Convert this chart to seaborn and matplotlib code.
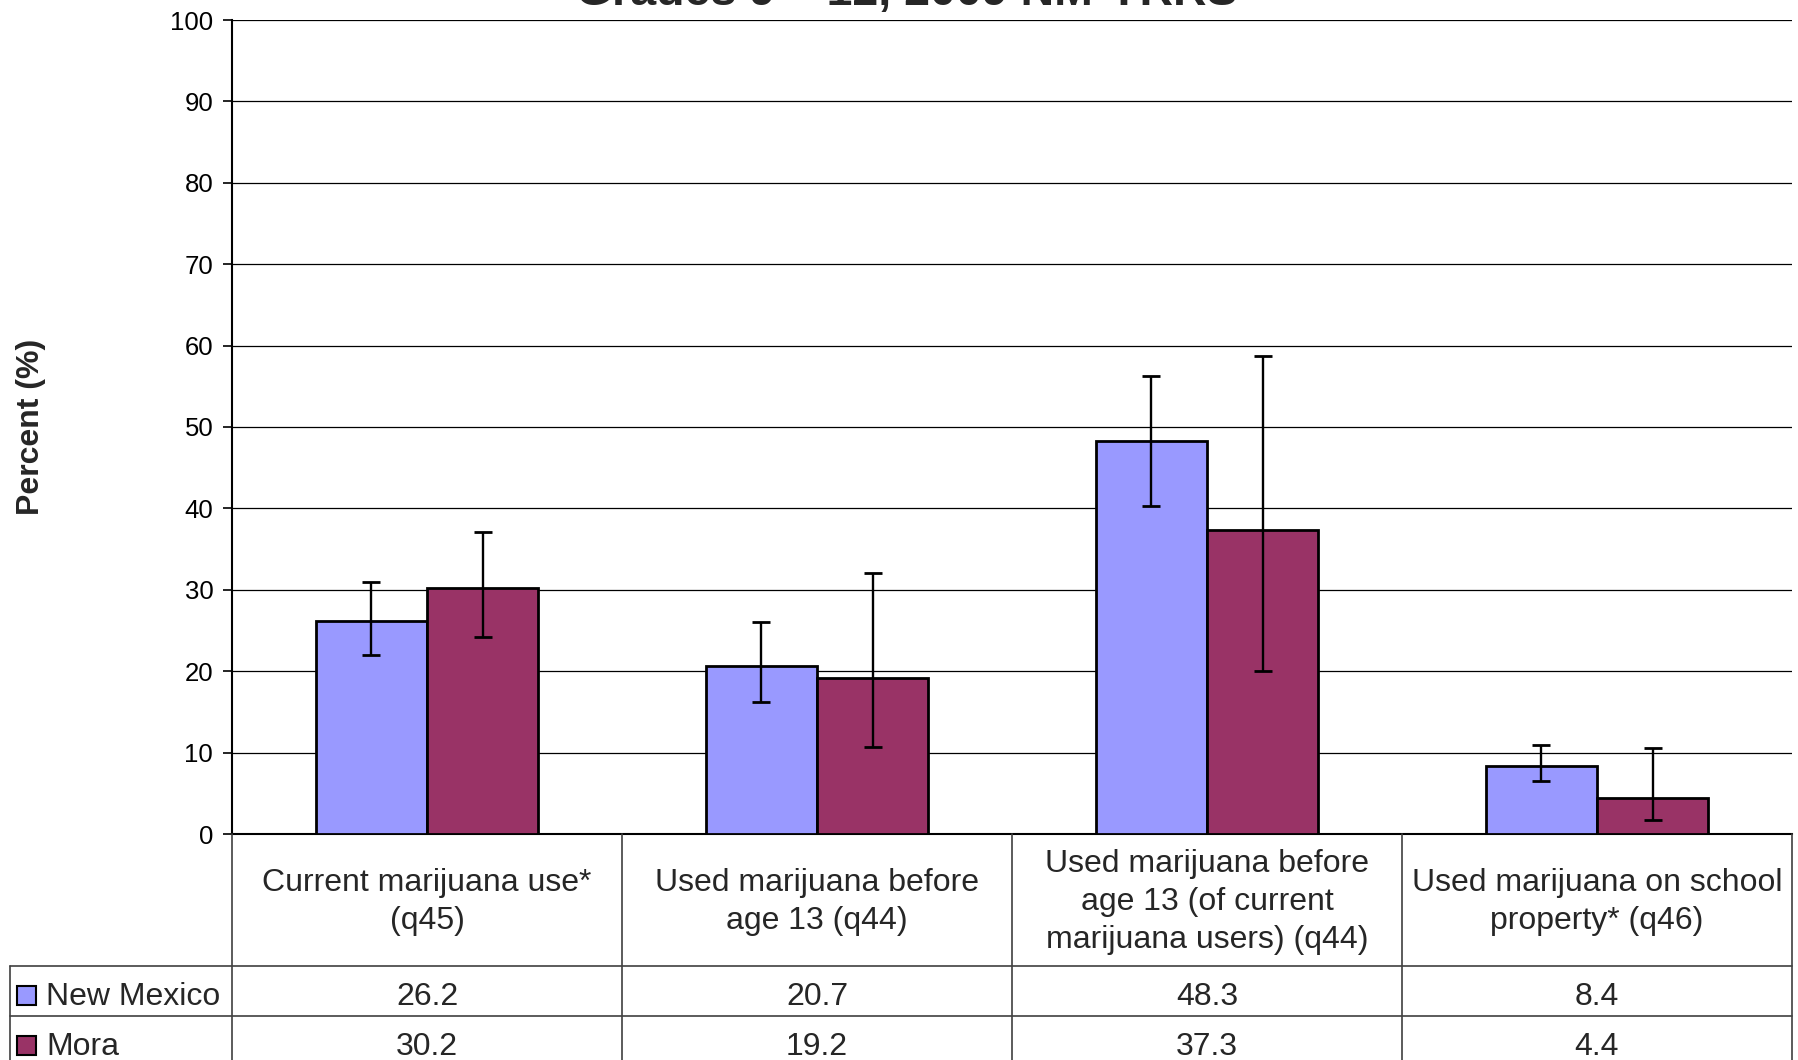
import pandas as pd
import matplotlib
matplotlib.use("Agg")
import matplotlib.pyplot as plt
import matplotlib.transforms as mtransforms
from matplotlib.lines import Line2D
from matplotlib.patches import Rectangle
import seaborn as sns


# ============================
# Data
# ============================

categories = [
    "Current marijuana use*\n(q45)",
    "Used marijuana before\nage 13 (q44)",
    "Used marijuana before\nage 13 (of current\nmarijuana users) (q44)",
    "Used marijuana on school\nproperty* (q46)",
]
groups = ["New Mexico", "Mora"]

nm_values = [26.2, 20.7, 48.3, 8.4]
nm_low = [22.0, 16.2, 40.3, 6.5]
nm_high = [30.9, 26.0, 56.3, 10.9]

mora_values = [30.2, 19.2, 37.3, 4.4]
mora_low = [24.2, 10.7, 20.0, 1.7]
mora_high = [37.1, 32.1, 58.7, 10.6]

title_text = "Grades 9 \u2013 12, 2009 NM-YRRS"
colors = ["#9999FF", "#993366"]


# ============================
# Helper Functions
# ============================

W, H = 1799, 1060


def fx(px):
    """Pixel from left -> figure fraction."""
    return px / W


def fy(px):
    """Pixel from top -> figure fraction."""
    return 1 - px / H


def build_frame():
    rows = []
    for g, vals in zip(groups, [nm_values, mora_values]):
        for c, v in zip(categories, vals):
            rows.append({"category": c, "group": g, "value": v})
    return pd.DataFrame(rows)


def main():
    sns.set_style("white")
    plt.rcParams["font.family"] = ["Liberation Sans", "DejaVu Sans"]

    df = build_frame()

    fig = plt.figure(figsize=(W / 100, H / 100), dpi=100)
    ax_left, ax_right, ax_top, ax_bottom = 232, 1792, 20, 834
    ax = fig.add_axes([fx(ax_left), fy(ax_bottom),
                       (ax_right - ax_left) / W, (ax_bottom - ax_top) / H])

    sns.barplot(data=df, x="category", y="value", hue="group",
                palette=colors, saturation=1, width=0.57, edgecolor="black",
                linewidth=2.0, errorbar=None, legend=False, ax=ax, zorder=3)

    # error bars from the bar positions seaborn drew
    lows = [nm_low, mora_low]
    highs = [nm_high, mora_high]
    vals = [nm_values, mora_values]
    for cont, lo, hi, v in zip(ax.containers, lows, highs, vals):
        xs = [b.get_x() + b.get_width() / 2 for b in cont]
        yerr = [[a - b for a, b in zip(v, lo)], [b - a for a, b in zip(v, hi)]]
        ax.errorbar(xs, v, yerr=yerr, fmt="none", ecolor="black",
                    elinewidth=1.7, capsize=6.5, capthick=2.0, zorder=4)

    ax.set_xlim(-0.5, 3.5)
    ax.set_ylim(0, 100)
    ax.set_yticks(range(0, 101, 10))
    ax.yaxis.grid(True, color="black", linewidth=0.9)
    ax.set_axisbelow(True)
    ax.set_xticks([])
    ax.set_xlabel("")
    ax.set_ylabel("")
    ax.tick_params(axis="y", labelsize=18.5, length=6.5, width=1.2,
                   direction="out", left=True, pad=7, colors="black")
    for side in ["top", "right"]:
        ax.spines[side].set_visible(False)
    ax.spines["left"].set_linewidth(1.5)
    ax.spines["left"].set_color("black")
    ax.spines["bottom"].set_linewidth(1.5)
    ax.spines["bottom"].set_color("black")

    # title (cut off at the top like the original)
    fig.text(0.504, fy(5), title_text, ha="center", va="baseline",
             fontsize=33.5, fontweight="bold")

    # y label
    fig.text(fx(31), fy((ax_top + ax_bottom) / 2), "Percent (%)",
             rotation=90, ha="center", va="center", fontsize=23,
             fontweight="bold")

    # ============================
    # Data table below the axes
    # ============================
    blend = mtransforms.blended_transform_factory(ax.transData, fig.transFigure)
    line_kw = dict(color="#404040", linewidth=1.2)
    row_edges = [ax_bottom, 966, 1016, 1066]

    for xb in [-0.5, 0.5, 1.5, 2.5, 3.5]:
        fig.add_artist(Line2D([xb, xb], [fy(row_edges[0]), fy(row_edges[-1])],
                              transform=blend, **line_kw))
    for yb in row_edges[1:]:
        fig.add_artist(Line2D([fx(10), fx(ax_right)], [fy(yb), fy(yb)],
                              transform=fig.transFigure, **line_kw))
    fig.add_artist(Line2D([fx(10), fx(10)], [fy(row_edges[1]), fy(row_edges[-1])],
                          transform=fig.transFigure, **line_kw))

    header_y = fy((row_edges[0] + row_edges[1]) / 2 + 2)
    for i, c in enumerate(categories):
        fig.text(i, header_y, c, transform=blend, ha="center", va="center",
                 fontsize=23, linespacing=1.36)

    for r, (g, v, col) in enumerate(zip(groups, vals, colors)):
        yc = (row_edges[r + 1] + row_edges[r + 2]) / 2
        fig.add_artist(Rectangle((fx(17), fy(yc + 14)), 19 / W, 19 / H,
                                 transform=fig.transFigure, facecolor=col,
                                 edgecolor="black", linewidth=1.5))
        fig.text(fx(46), fy(yc + 6), g, ha="left", va="center", fontsize=23)
        for i, val in enumerate(v):
            fig.text(i, fy(yc + 6), f"{val:.1f}", transform=blend, ha="center",
                     va="center", fontsize=23)

    fig.savefig("out.png", dpi=100)
    plt.close(fig)


if __name__ == "__main__":
    main()
